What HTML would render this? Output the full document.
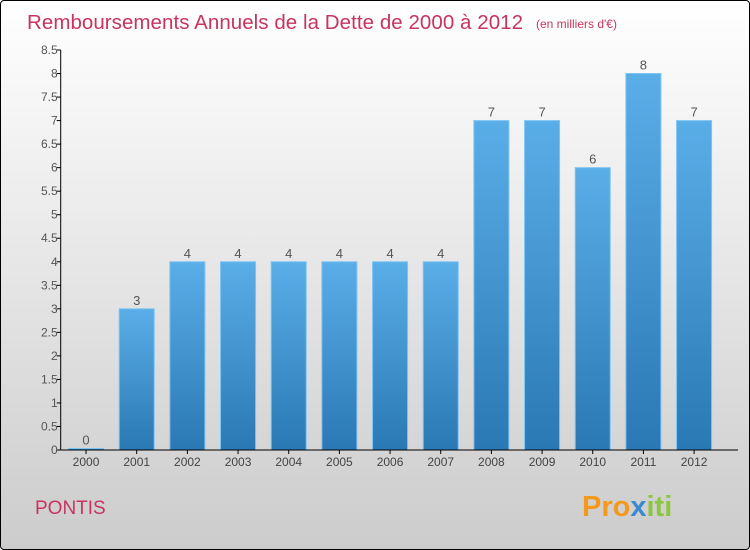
<!DOCTYPE html>
<html><head><meta charset="utf-8"><style>
body{margin:0;width:750px;height:550px;overflow:hidden;font-family:"Liberation Sans",sans-serif}
#wrap{position:absolute;left:0;top:0;width:748px;height:548px;border:1px solid #000;border-radius:4px;background:linear-gradient(#ffffff,#f0f0f0 30%,#d6d6d6 80%,#cccccc)}
</style></head><body>
<div id="wrap">
<svg width="750" height="550" style="position:absolute;left:-1px;top:-1px" id="chart">
<defs><linearGradient id="g" x1="0" y1="0" x2="0" y2="1"><stop offset="0" stop-color="#5aaee8"/><stop offset="1" stop-color="#2a78b4"/></linearGradient></defs>
<text x="27" y="29" font-size="20.5" fill="#c8345f" textLength="496">Remboursements Annuels de la Dette de 2000 à 2012</text>
<text x="536" y="28" font-size="12" fill="#c8345f">(en milliers d'€)</text>
<text x="35" y="514" font-size="19" fill="#c8345f">PONTIS</text>
<text x="582" y="516" font-size="29" font-weight="bold" fill="#f39a1e">Pro<tspan fill="#3a8ad0">x</tspan><tspan fill="#8cc63f">iti</tspan></text>
<g id="plot"></g>
</svg></div>
<script>
const years=["2000","2001","2002","2003","2004","2005","2006","2007","2008","2009","2010","2011","2012"];
const values=[0,3,4,4,4,4,4,4,7,7,6,8,7];
const ticks=[0,0.5,1,1.5,2,2.5,3,3.5,4,4.5,5,5.5,6,6.5,7,7.5,8,8.5];
const NS="http://www.w3.org/2000/svg";
const g=document.getElementById('plot');
const y0=450,yTop=50,ymax=8.5,x0=60.7,slot=50.67,bw=35;
const y=v=>y0-(v/ymax)*(y0-yTop);
const x=i=>x0+slot*(i+0.5);
function el(t,a){const e=document.createElementNS(NS,t);for(const k in a)e.setAttribute(k,a[k]);g.appendChild(e);return e;}
values.forEach((v,i)=>{
 const h=Math.max(y0-y(v),1.5);
 const r=el('rect',{x:x(i)-bw/2,y:y0-h,width:bw,height:h,fill:'url(#g)',stroke:'#7cc4f4','stroke-width':1});
 
 
 const t=el('text',{x:x(i),y:y0-h-4,'text-anchor':'middle','font-size':13,fill:'#555'});
 t.textContent=v;
 
 
 const xl=el('text',{x:x(i),y:466,'text-anchor':'middle','font-size':12,fill:'#444'});
 xl.textContent=years[i];
 
 
 el('line',{x1:x(i),x2:x(i),y1:y0,y2:y0+4,stroke:'#000'});
});
ticks.forEach(v=>{
 el('line',{x1:x0-4,x2:x0,y1:y(v),y2:y(v),stroke:'#000'});
 const t=el('text',{x:x0-3,y:y(v)+4,'text-anchor':'end','font-size':12,fill:'#555'});
 t.textContent=v;
 
 
});
const ya=el('line',{x1:x0,x2:x0,y1:yTop,y2:y0,stroke:'#000'});


const xa=el('line',{x1:x0,x2:738,y1:y0,y2:y0,stroke:'#000'});


</script>
</body></html>
